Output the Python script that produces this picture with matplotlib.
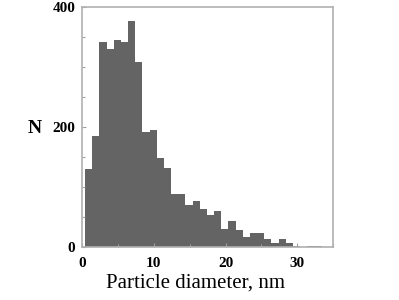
import matplotlib
matplotlib.use("Agg")
import matplotlib.pyplot as plt
import numpy as np
from matplotlib.ticker import MultipleLocator

# Histogram data: particle diameter bins (nm) and counts
bin_start = 0.4
bin_width = 1.0
counts = [130, 185, 342, 329, 345, 341, 377, 308, 192, 195,
          149, 132, 88, 89, 70, 77, 64, 53, 60, 30,
          44, 29, 17, 23, 24, 14, 6, 13, 6, 2,
          0, 2, 2]
x_ticks = [0, 10, 20, 30]
y_ticks = [0, 200, 400]

edges = bin_start + bin_width * np.arange(len(counts) + 1)

fig = plt.figure(figsize=(3.99, 3.0), dpi=100)
ax = fig.add_axes([0.206, 0.177, 0.629, 0.800])

ax.stairs(counts, edges, fill=True, color="#646464", linewidth=0)

ax.set_xlim(0, 35)
ax.set_ylim(0, 400)
ax.set_xticks(x_ticks)
ax.set_yticks(y_ticks)
ax.xaxis.set_minor_locator(MultipleLocator(5))
ax.yaxis.set_minor_locator(MultipleLocator(50))

for s in ax.spines.values():
    s.set_color("#b0b0b0")
    s.set_linewidth(1.2)

ax.tick_params(which="both", direction="in", color="#a0a0a0", width=0.8)
ax.tick_params(which="major", length=3)
ax.tick_params(which="minor", length=2)
ax.tick_params(axis="x", which="major", pad=7)
ax.tick_params(axis="y", which="major", pad=5)

tick_font = dict(family="Liberation Serif", weight="bold", size=11)
ax.set_xticklabels([str(t) for t in x_ticks], fontdict=tick_font)
ax.set_yticklabels([str(t) for t in y_ticks], fontdict=tick_font)

fig.text(195 / 399, 1 - 283 / 300, "Particle diameter, nm",
         family="Liberation Serif", size=15, ha="center", va="center")
fig.text(35 / 399, 1 - 128 / 300, "N", family="Liberation Serif",
         weight="bold", size=14, ha="center", va="center")

fig.savefig("out.png", dpi=100)
